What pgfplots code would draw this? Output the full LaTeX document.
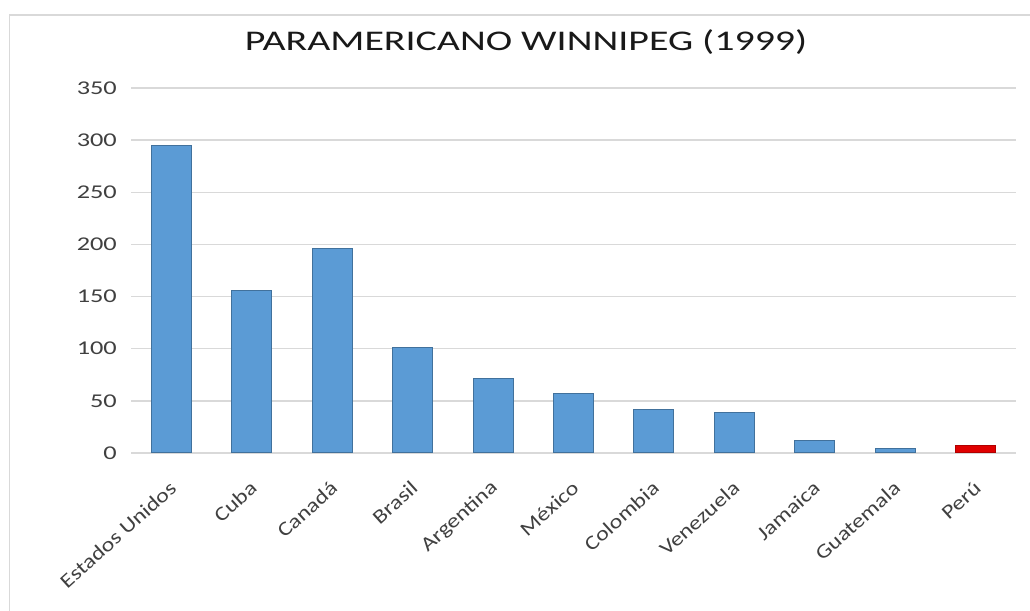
\documentclass[border=0pt]{standalone}
\usepackage{pgfplots}
\pgfplotsset{compat=1.18}
\usepackage{fontspec}
\setmainfont{Carlito}
\newfontfamily\titlefont{Carlito}[FakeStretch=1.4]
\newfontfamily\tickfont{Carlito}[FakeStretch=1.35]
\newfontfamily\labfont{Carlito}[FakeStretch=1.2]
\definecolor{barblue}{HTML}{5B9BD5}
\definecolor{barblueedge}{HTML}{41719C}
\definecolor{barred}{HTML}{E00000}
\definecolor{barrededge}{HTML}{B00000}
\definecolor{gridgray}{HTML}{D9D9D9}
\definecolor{framegray}{HTML}{D9D9D9}
\definecolor{txt}{HTML}{404040}
\begin{document}
\begin{tikzpicture}
\useasboundingbox (0pt,0pt) rectangle (1030pt,610pt);
\fill[white] (0pt,0pt) rectangle (1030pt,610pt);
\draw[framegray, line width=1.5pt] (9.5pt,-10pt) -- (9.5pt,595pt) -- (1040pt,595pt);
\node[font=\titlefont\fontsize{28.5}{34}\selectfont, text=black!90] at (526pt,568pt) {PARAMERICANO WINNIPEG (1999)};
\begin{axis}[
  at={(131pt,157pt)}, anchor=south west,
  scale only axis, width=885pt, height=365pt,
  xmin=-0.5, xmax=10.5, ymin=0, ymax=350,
  ytick={0,50,...,350},
  xtick={0,...,10},
  xticklabels={Estados Unidos,Cuba,Canadá,Brasil,Argentina,México,Colombia,Venezuela,Jamaica,Guatemala,Perú},
  ybar, bar width=40pt, bar shift=0pt,
  ymajorgrids, grid style={gridgray, line width=1.5pt},
  axis line style={draw=none}, major tick length=0pt,
  /pgf/number format/assume math mode=true,
  yticklabel style={font=\tickfont\fontsize{19.5}{20}\selectfont, text=txt, inner sep=0pt, xshift=-14pt},
  xticklabel style={font=\labfont\fontsize{20}{22}\selectfont, text=txt, inner sep=0pt, yshift=-32pt, xshift=2pt, rotate=42, anchor=east},
  clip=false,
]
\addplot[fill=barblue, draw=barblueedge, line width=1pt] coordinates {
  (0,295) (1,156) (2,196) (3,101) (4,71) (5,57) (6,42) (7,39) (8,12) (9,4)
};
\addplot[fill=barred, draw=barrededge, line width=1pt] coordinates {
  (10,7)
};
\end{axis}
\end{tikzpicture}
\end{document}
